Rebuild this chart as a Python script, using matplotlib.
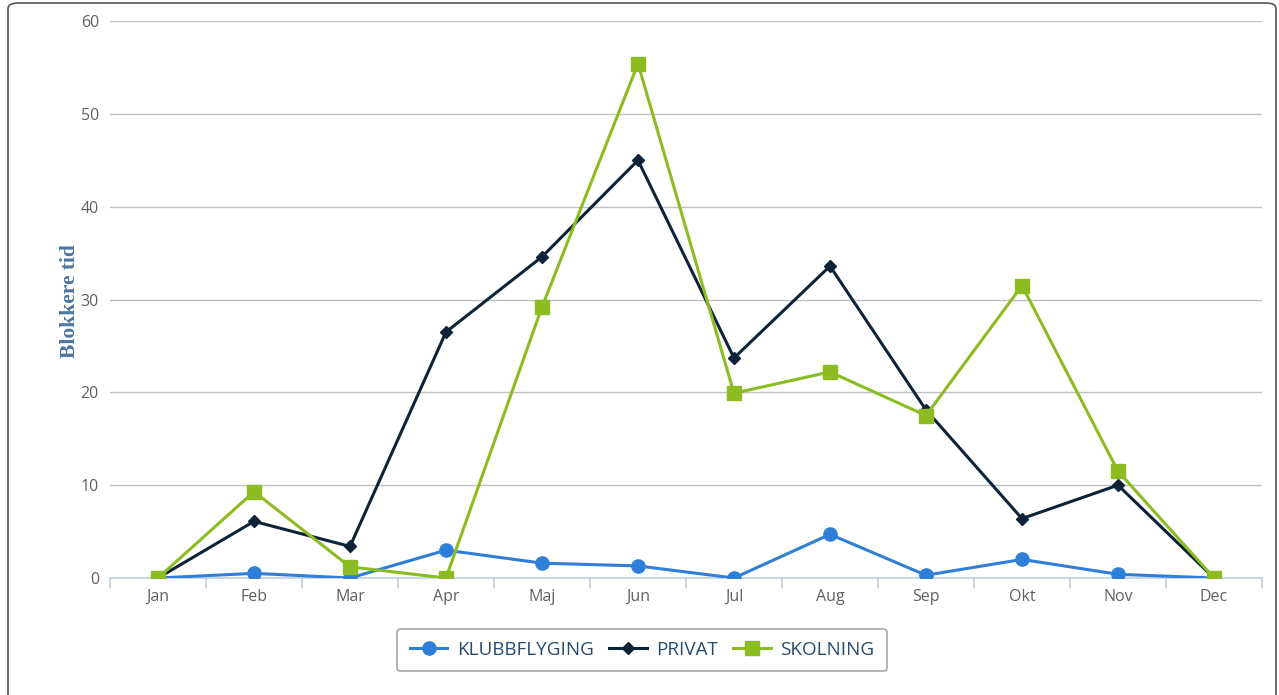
import matplotlib
matplotlib.use("Agg")
import matplotlib.pyplot as plt
from matplotlib.patches import FancyBboxPatch
from matplotlib.lines import Line2D

months = ["Jan", "Feb", "Mar", "Apr", "Maj", "Jun", "Jul", "Aug", "Sep", "Okt", "Nov", "Dec"]
klubbflyging = [0, 0.5, 0, 3.0, 1.6, 1.3, 0, 4.7, 0.3, 2.0, 0.4, 0]
privat = [0, 6.1, 3.4, 26.5, 34.6, 45.0, 23.7, 33.6, 18.1, 6.4, 10.0, 0]
skolning = [0, 9.3, 1.2, 0, 29.2, 55.4, 19.9, 22.2, 17.5, 31.5, 11.5, 0]
series_names = ["KLUBBFLYGING", "PRIVAT", "SKOLNING"]
yticks = [0, 10, 20, 30, 40, 50, 60]

W, H = 1279, 695
fig = plt.figure(figsize=(W / 100, H / 100), dpi=100)
fig.patch.set_facecolor("white")

# outer rounded border
border = FancyBboxPatch((8 / W, -10 / H), (1268 / W), (702 / H),
                        boxstyle="round,pad=0,rounding_size=0.008",
                        transform=fig.transFigure, fill=False,
                        edgecolor="#555555", linewidth=1.2)
fig.patches.append(border)

left, right, top, bottom = 110, 1262, 21, 578
ax = fig.add_axes([left / W, 1 - bottom / H, (right - left) / W, (bottom - top) / H])
ax.set_facecolor("none")

x = list(range(len(months)))
ax.plot(x, klubbflyging, color="#2f7ed8", lw=2.2, marker="o", ms=9.5, zorder=3)
ax.plot(x, privat, color="#0d233a", lw=2.2, marker="D", ms=6, zorder=4)
ax.plot(x, skolning, color="#8bbc21", lw=2.2, marker="s", ms=9.5, zorder=5)

ax.set_xlim(-0.5, len(months) - 0.5)
ax.set_ylim(0, 60)
ax.set_yticks(yticks)
ax.set_yticklabels([str(v) for v in yticks])
ax.yaxis.grid(True, color="#c0c0c0", lw=1)
ax.set_axisbelow(True)

for s in ["top", "right", "left"]:
    ax.spines[s].set_visible(False)
ax.spines["bottom"].set_color("#c0d0e0")
ax.spines["bottom"].set_linewidth(1.2)

ax.set_xticks(x)
ax.set_xticklabels(months)
ax.set_xticks([i - 0.5 for i in range(len(months) + 1)], minor=True)
ax.tick_params(axis="x", which="major", length=0, pad=8, labelsize=11.5, labelcolor="#606060")
ax.tick_params(axis="x", which="minor", length=7, color="#c0d0e0", width=1.2, direction="out")
ax.tick_params(axis="y", length=0, pad=8, labelsize=11.5, labelcolor="#606060")
for lbl in ax.get_xticklabels() + ax.get_yticklabels():
    lbl.set_family("Open Sans")

fig.text(70 / W, 1 - 301 / H, "Blokkere tid", rotation=90, ha="center", va="center",
         fontsize=15.5, fontweight="bold", color="#4d759e", family="Liberation Serif")

handles = [
    Line2D([], [], color="#2f7ed8", lw=2.2, marker="o", ms=9.5),
    Line2D([], [], color="#0d233a", lw=2.2, marker="D", ms=6),
    Line2D([], [], color="#8bbc21", lw=2.2, marker="s", ms=9.5),
]
leg = fig.legend(handles, series_names, loc="center", bbox_to_anchor=(642 / W, 1 - 650 / H),
                 ncol=3, frameon=True, fancybox=True, handlelength=2.0,
                 columnspacing=0.8, handletextpad=0.5, borderpad=0.65,
                 prop={"family": "Open Sans", "size": 13.6})
leg.get_frame().set_edgecolor("#909090")
leg.get_frame().set_linewidth(1.2)
for t in leg.get_texts():
    t.set_color("#274b6d")

fig.savefig("out.png", dpi=100, facecolor="white")
